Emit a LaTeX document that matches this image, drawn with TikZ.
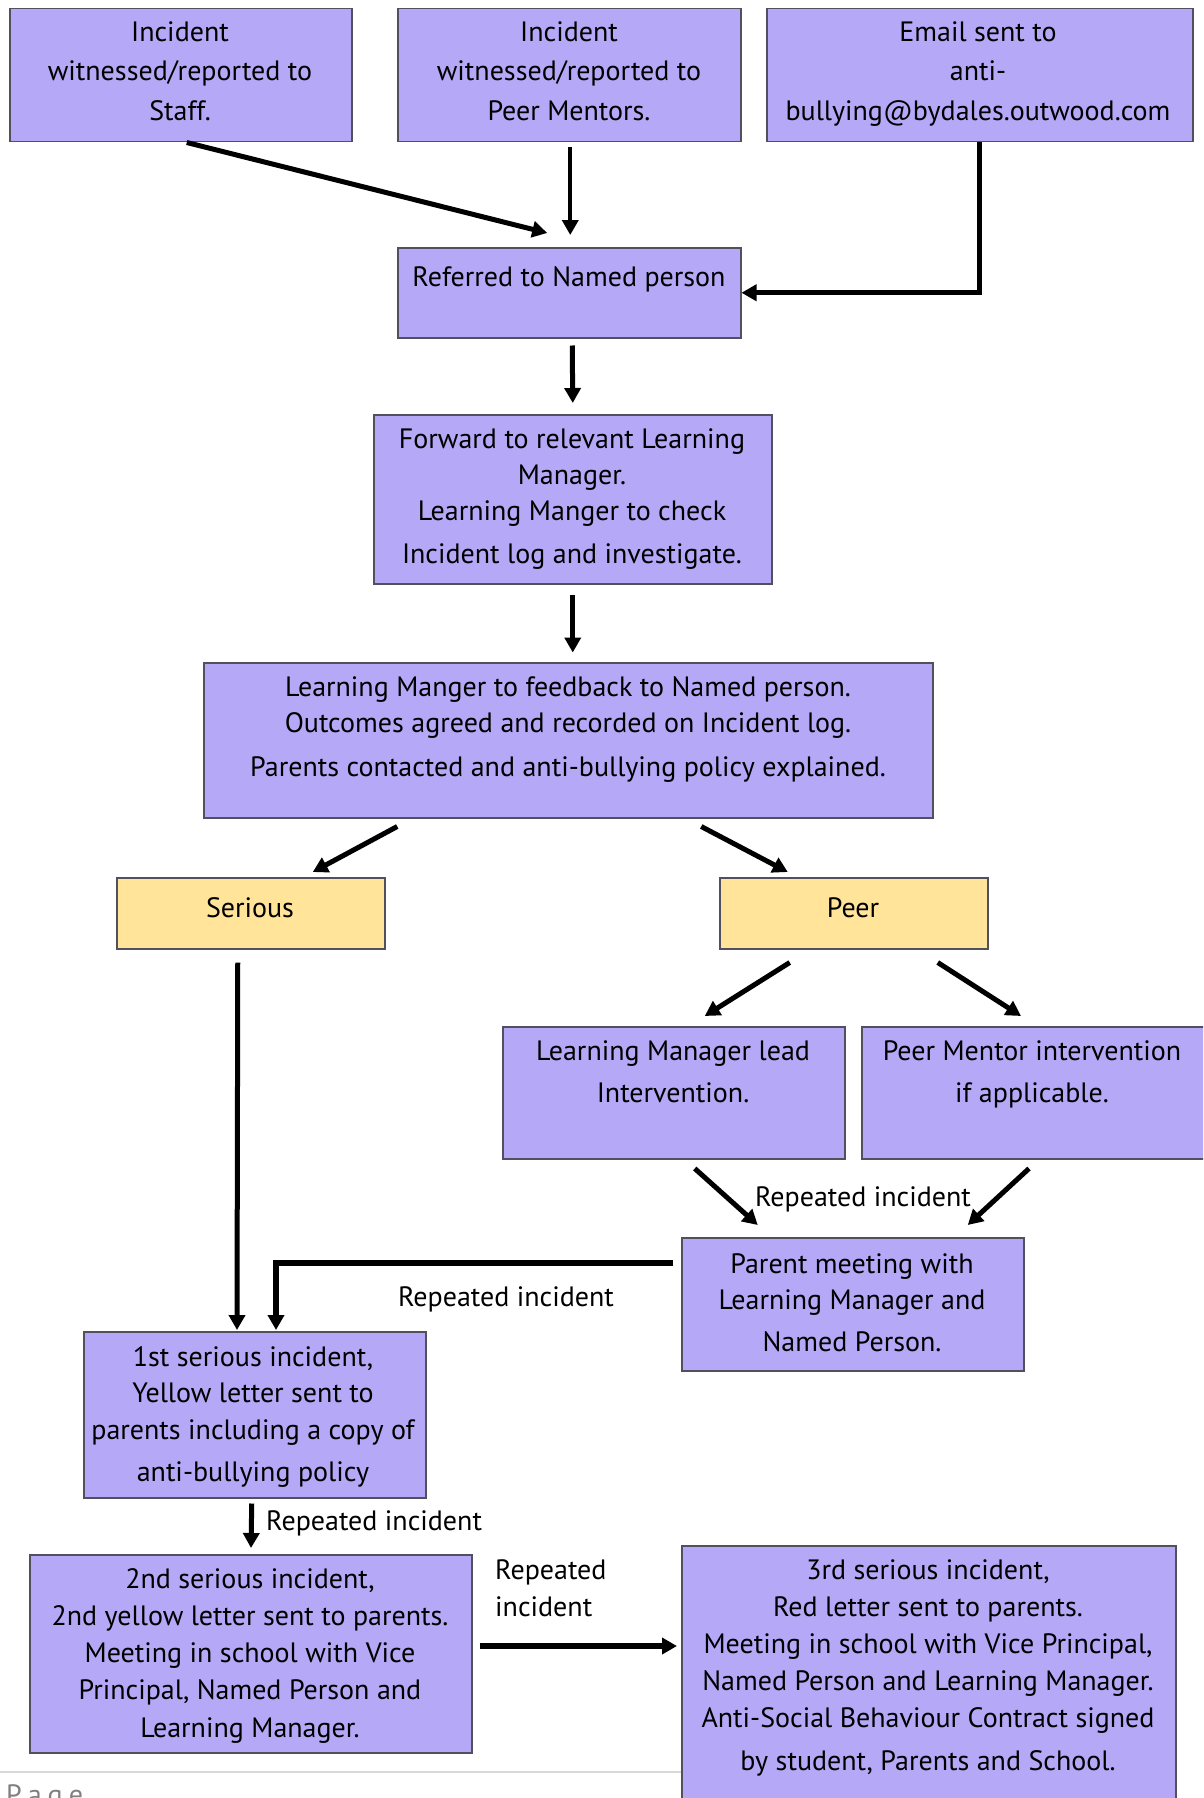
\documentclass[tikz,border=0pt]{standalone}
\usepackage{fontspec}
\setmainfont{PT Sans}
\usetikzlibrary{arrows.meta,calc}
\definecolor{boxfill}{HTML}{B5A8F7}
\definecolor{yfill}{HTML}{FFE49A}
\definecolor{boxline}{HTML}{50505E}
\newcommand\fl{\rule{0pt}{22pt}}
\tikzset{
  box/.style={draw=boxline, line width=1.5pt, fill=boxfill, inner sep=0pt, anchor=north west},
  ybox/.style={draw=boxline, line width=1.5pt, fill=yfill, inner sep=0pt, anchor=north west},
  txt/.style={anchor=north, align=center, inner sep=0pt, yshift=-2pt, font=\fontsize{28}{#1}\selectfont},
  txt/.default=37,
  lbl/.style={inner sep=0pt, align=left, yshift=-2pt, font=\fontsize{28}{37}\selectfont},
  arr/.style={line width=5pt, -{Triangle[length=15pt,width=16pt]}},
}
\begin{document}
\begin{tikzpicture}[x=1pt,y=-1pt]
\useasboundingbox (0,0) rectangle (1203,1798);
\clip (0,0) rectangle (1203,1798);
% boxes
\node[box, minimum width=342pt, minimum height=133pt] (b1) at (9,8) {};
\node[box, minimum width=343pt, minimum height=133pt] (b2) at (397,8) {};
\node[box, minimum width=426pt, minimum height=133pt] (b3) at (766,8) {};
\node[box, minimum width=343pt, minimum height=90pt] (b4) at (397,247) {};
\node[box, minimum width=398pt, minimum height=169pt] (b5) at (373,414) {};
\node[box, minimum width=729pt, minimum height=155pt] (b6) at (203,662) {};
\node[ybox, minimum width=268pt, minimum height=71pt] (b7) at (116,877) {};
\node[ybox, minimum width=268pt, minimum height=71pt] (b8) at (719,877) {};
\node[box, minimum width=342pt, minimum height=132pt] (b9) at (502,1026) {};
\node[box, minimum width=354pt, minimum height=132pt] (b10) at (861,1026) {};
\node[box, minimum width=342pt, minimum height=133pt] (b11) at (681,1237) {};
\node[box, minimum width=342pt, minimum height=166pt] (b12) at (83,1331) {};
\node[box, minimum width=442pt, minimum height=198pt] (b13) at (29,1554) {};
\node[box, minimum width=494pt, minimum height=270pt] (b14) at (681,1545) {};
% texts
\node[txt=39] (t1) at (180,17) {\fl Incident\\witnessed/reported to\\[1pt]Staff.};
\node[txt=39] (t2) at (569,17) {\fl Incident\\witnessed/reported to\\[1pt]Peer Mentors.};
\node[txt=39] (t3) at (978,17) {\fl Email sent to\\anti-\\[1pt]bullying@bydales.outwood.com};
\node[txt] (t4) at (569,262) {\fl Referred to Named person};
\node[txt=36] (t5) at (572,424) {\fl Forward to relevant Learning\\Manager.\\Learning Manger to check\\[7pt]Incident log and investigate.};
\node[txt=36] (t6) at (568,672) {\fl Learning Manger to feedback to Named person.\\Outcomes agreed and recorded on Incident log.\\[8pt]Parents contacted and anti-bullying policy explained.};
\node[txt] (t7) at (250,893) {\fl Serious};
\node[txt] (t8) at (853,893) {\fl Peer};
\node[txt] (t9) at (673,1036) {\fl Learning Manager lead\\[5pt]Intervention.};
\node[txt] (t10) at (1032,1036) {\fl Peer Mentor intervention\\[5pt]if applicable.};
\node[txt=36] (t11) at (852,1249) {\fl Parent meeting with\\Learning Manager and\\[6pt]Named Person.};
\node[txt=36] (t12) at (253,1342) {\fl 1st serious incident,\\Yellow letter sent to\\[1pt]parents including a copy of\\[6pt]anti-bullying policy};
\node[txt=37] (t13) at (250,1564) {\fl 2nd serious incident,\\2nd yellow letter sent to parents.\\Meeting in school with Vice\\Principal, Named Person and\\[1pt]Learning Manager.};
\node[txt=37] (t14) at (928,1555) {\fl 3rd serious incident,\\Red letter sent to parents.\\Meeting in school with Vice Principal,\\Named Person and Learning Manager.\\Anti-Social Behaviour Contract signed\\[6pt]by student, Parents and School.};
% labels
\node[lbl] (l1) at (863,1197) {Repeated incident};
\node[lbl] (l2) at (506,1297) {Repeated incident};
\node[lbl, anchor=west] (l3) at (266,1521) {Repeated incident};
\node[lbl, anchor=north west] (l4) at (495,1555) {\fl Repeated\\incident};
% page footer
\draw[line width=2pt, black!15] (0,1772) -- (b14.west |- 0,1772);
\node[anchor=west, inner sep=0pt, text=black!50, font=\fontsize{28}{30}\selectfont] (pg) at (6,1798) {P\hspace{6pt}a\hspace{6pt}g\hspace{6pt}e};
% connectors
\draw[arr] ($(b1.south)+(6,0)$) -- ($(b4.north)+(-22,-14)$);
\draw[arr, line width=4pt] ($(b2.south)+(1,5)$) -- ($(b4.north)+(1,-12)$);
\draw[arr] (b3.south) |- (b4.east);
\draw[arr] ($(b4.south)+(3,7)$) -- ($(b5.north)+(0,-11)$);
\draw[arr] ($(b5.south)+(0,10)$) -- ($(b5.south)+(0,68)$);
\draw[arr] ($(b6.south)+(-171,8)$) -- ($(b7.north)+(62,-5)$);
\draw[arr] ($(b6.south)+(133,8)$) -- ($(b8.north)+(-66,-5)$);
\draw[arr] ($(b8.south)+(-64,13)$) -- ($(b9.north)+(31,-10)$);
\draw[arr] ($(b8.south)+(84,13)$) -- ($(b10.north west)+(160,-10)$);
\draw[arr] ($(b9.south)+(21,9)$) -- ($(b11.north)+(-95,-12)$);
\draw[arr] ($(b10.south west)+(168,9)$) -- ($(b11.north)+(115,-12)$);
\draw[arr] ($(b7.south)+(-13,13)$) -- ($(b12.north west)+(154,-1)$);
\draw[arr, line width=6pt] ($(b11.north west)+(-8,26)$) -| ($(b12.north west)+(193,-1)$);
\draw[arr] ($(b12.south)+(-3,5)$) -- ($(b13.north west)+(222,-6)$);
\draw[arr, line width=6pt] ($(b13.north east)+(7,92)$) -- ($(b14.north west)+(-4,101)$);
\end{tikzpicture}
\end{document}
